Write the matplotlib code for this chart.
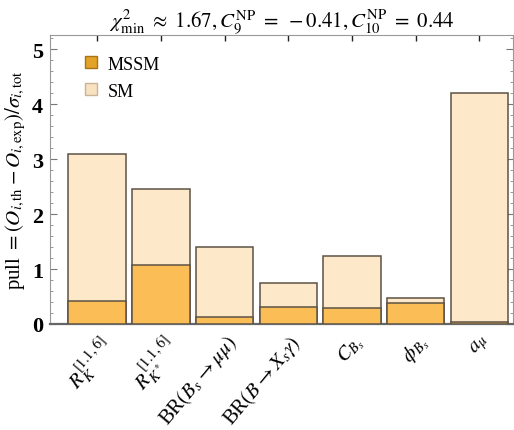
import matplotlib.pyplot as plt
from matplotlib.ticker import MultipleLocator
from matplotlib.patches import Patch

plt.rcParams['font.family'] = ['Liberation Serif', 'DejaVu Serif']
plt.rcParams['mathtext.fontset'] = 'stix'

# data
labels = [r'$R_K^{[1.1,6]}$', r'$R_{K^*}^{[1.1,6]}$', r'BR$(B_s\rightarrow\mu\mu)$',
          r'BR$(B\rightarrow X_s\gamma)$', r'$C_{B_s}$', r'$\phi_{B_s}$', r'$a_\mu$']
sm_pull = [3.10, 2.45, 1.41, 0.75, 1.23, 0.47, 4.21]
mssm_pull = [0.41, 1.08, 0.12, 0.31, 0.29, 0.39, 0.03]

sm_color = '#fde9ca'
mssm_color = '#fbbd55'
edge = '#5e5244'

fig = plt.figure(figsize=(5.14, 4.31), dpi=100)
ax = fig.add_axes([0.0973, 0.246, 0.901, 0.6705])

x = range(len(labels))
ax.bar(x, sm_pull, width=0.9, color=sm_color, edgecolor=edge, linewidth=1.1, zorder=2)
ax.bar(x, mssm_pull, width=0.9, color=mssm_color, edgecolor=edge, linewidth=1.1, zorder=3)

ax.set_xlim(-0.74, 6.53)
ax.set_ylim(0, 5.26)
ax.yaxis.set_major_locator(MultipleLocator(1))
ax.yaxis.set_minor_locator(MultipleLocator(0.2))
ax.set_xticks(list(x))
ax.set_xticklabels(labels, rotation=50, ha='right', va='top', rotation_mode='anchor', fontsize=15)
for t in ax.get_yticklabels():
    t.set_fontweight('bold')
ax.tick_params(axis='y', which='major', labelsize=16, direction='in', length=5, width=0.8,
               color='#777777', right=True, pad=5)
ax.tick_params(axis='y', which='minor', direction='in', length=2.5, width=0.6, color='#888888', right=True)
ax.tick_params(axis='x', which='major', direction='in', length=4, width=1, color='#222222', top=True, pad=5)

for s in ['top', 'right', 'left']:
    ax.spines[s].set_color('#999999')
    ax.spines[s].set_linewidth(0.8)
ax.spines['bottom'].set_color('#666666')
ax.spines['bottom'].set_linewidth(1.6)

ax.set_ylabel(r'pull $= (O_{i,\mathrm{th}} - O_{i,\mathrm{exp}})/\sigma_{i,\mathrm{tot}}$', fontsize=15, labelpad=3)
ax.set_title(r'$\chi^2_{\mathrm{min}}\ \approx\ 1.67, C_9^{\mathrm{NP}}\ =\ -0.41, C_{10}^{\mathrm{NP}}\ =\ 0.44$',
             fontsize=15, pad=6)

handles = [Patch(facecolor='#e3a228', edgecolor='#a87418', label='MSSM'),
           Patch(facecolor='#f8e2bf', edgecolor='#c9b497', label='SM')]
ax.legend(handles=handles, loc='upper left', bbox_to_anchor=(0.04, 0.985), frameon=False,
          fontsize=13, handlelength=0.65, handleheight=0.65, handletextpad=0.6, labelspacing=0.55)

fig.savefig('out.png', dpi=100)
